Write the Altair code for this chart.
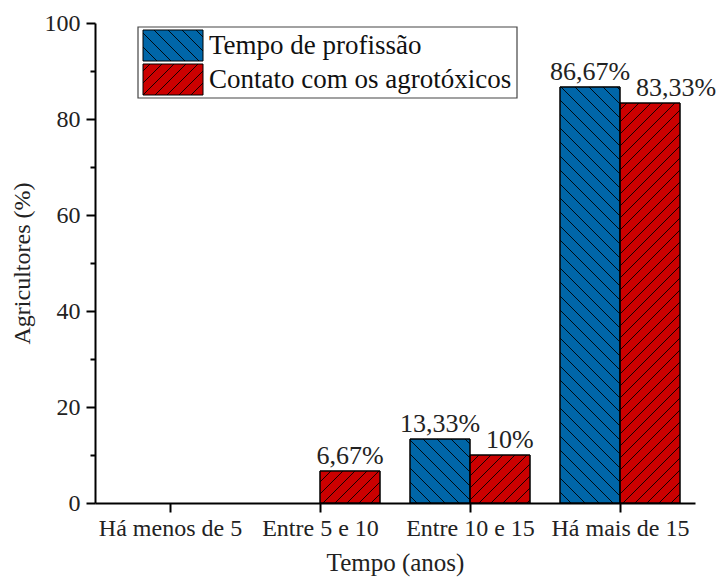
import altair as alt
import numpy as np
import pandas as pd

# ---------------- data ----------------
categories = ["Há menos de 5", "Entre 5 e 10", "Entre 10 e 15", "Há mais de 15"]
series = ["Tempo de profissão", "Contato com os agrotóxicos"]
tempo_profissao = [0.0, 0.0, 13.33, 86.67]
contato_agrotoxicos = [0.0, 6.67, 10.0, 83.33]
y_ticks = [0, 10, 20, 30, 40, 50, 60, 70, 80, 90, 100]
# labels that sit left-anchored (nudged right) instead of centred: (series index, category index)
nudged_labels = [(1, 2), (1, 3)]

# ---------------- style / layout ----------------
colors = ["#0066A8", "#CC0000"]
hatch_dir = [-1, 1]          # -1 = "\" , 1 = "/"
hatch_step = [14.0, 12.0]    # px between hatch lines
W, H = 600, 480
n_cat = len(categories)
kx = W / n_cat
ky = H / 100.0
FONT = "Liberation Serif"
values_by_series = [tempo_profissao, contato_agrotoxicos]


def fmt(v):
    s = f"{v:.2f}".replace(".", ",")
    if s.endswith(",00"):
        s = s[:-3]
    return s + "%"


def hatch(x0, x1, y0, y1, step, direction):
    """segments (in data units) for 45deg hatch clipped to a rectangle given in data units"""
    X0, X1, Y0, Y1 = x0 * kx, x1 * kx, y0 * ky, y1 * ky
    segs = []
    if direction == 1:  # Y = X + c
        cmin, cmax = Y0 - X1, Y1 - X0
        k = np.ceil(cmin / step)
        while k * step <= cmax:
            c = k * step
            xa, xb = max(X0, Y0 - c), min(X1, Y1 - c)
            if xb - xa > 0.5:
                segs.append((xa / kx, (xa + c) / ky, xb / kx, (xb + c) / ky))
            k += 1
    else:  # Y = -X + c
        cmin, cmax = X0 + Y0, X1 + Y1
        k = np.ceil(cmin / step)
        while k * step <= cmax:
            c = k * step
            xa, xb = max(X0, c - Y1), min(X1, c - Y0)
            if xb - xa > 0.5:
                segs.append((xa / kx, (c - xa) / ky, xb / kx, (c - xb) / ky))
            k += 1
    return segs


bar_rows, hatch_rows, lab_rows = [], [], []
for s, (name, vals) in enumerate(zip(series, values_by_series)):
    for i, (cat, v) in enumerate(zip(categories, vals)):
        x0 = i + 0.1 + 0.4 * s
        x1 = x0 + 0.4
        bar_rows.append(dict(cat=cat, serie=name, x0=x0, x1=x1, y0=0.0, y1=v))
        if v > 0:
            for (a, b, c, d) in hatch(x0, x1, 0.0, v, hatch_step[s], hatch_dir[s]):
                hatch_rows.append(dict(x=a, y=b, x2=c, y2=d))
            lab_rows.append(dict(xc=(x0 + x1) / 2, xl=x0, y=v, text=fmt(v),
                                 nudged=(s, i) in nudged_labels))

# legend (positions in px inside the plot, converted through scales)
leg_box = dict(x0=43 / kx, x1=422 / kx, y0=(H - 75) / ky, y1=(H - 4) / ky)
leg_rows, leg_text = [], []
for s, name in enumerate(series):
    top = 7 + s * 34
    bot = top + 31
    x0, x1 = 48 / kx, 108 / kx
    y0, y1 = (H - bot) / ky, (H - top) / ky
    leg_rows.append(dict(serie=name, x0=x0, x1=x1, y0=y0, y1=y1))
    for (a, b, c, d) in hatch(x0, x1, y0, y1, hatch_step[s], hatch_dir[s]):
        hatch_rows.append(dict(x=a, y=b, x2=c, y2=d))
    leg_text.append(dict(x=114 / kx, y=(H - (top + bot) / 2) / ky, text=name))

bars = pd.DataFrame(bar_rows)
hatches = pd.DataFrame(hatch_rows)
labs = pd.DataFrame(lab_rows)
legs = pd.DataFrame(leg_rows)
legt = pd.DataFrame(leg_text)

cat_js = "[" + ",".join("'" + c + "'" for c in categories) + "]"

xscale = alt.Scale(domain=[0, n_cat], nice=False, zero=False)
yscale = alt.Scale(domain=[0, 100], nice=False)
color_scale = alt.Scale(domain=series, range=colors)

x_axis = alt.Axis(
    values=[i + 0.5 for i in range(n_cat)],
    labelExpr=cat_js + "[floor(datum.value)]",
    title="Tempo (anos)",
    grid=False, labelOverlap=False, labelFlush=False, labelBound=False,
    tickSize=9, tickWidth=2, tickColor="black",
    domainColor="black", domainWidth=2,
    labelFont=FONT, labelFontSize=24, labelColor="#222", labelPadding=4,
    titleFont=FONT, titleFontSize=25, titleFontWeight="normal", titleColor="#222",
    titlePadding=10,
)
y_axis = alt.Axis(
    values=y_ticks,
    labelExpr="datum.value % 20 == 0 ? datum.label : ''",
    title="Agricultores (%)",
    grid=False, labelOverlap=False, labelFlush=False,
    tickSize={"condition": {"test": "datum.value % 20 == 0", "value": 9}, "value": 5},
    tickWidth=2, tickColor="black",
    domainColor="black", domainWidth=2,
    labelFont=FONT, labelFontSize=24, labelColor="#222", labelPadding=6,
    titleFont=FONT, titleFontSize=24, titleFontWeight="normal", titleColor="#222",
    titlePadding=10,
)

bar_layer = alt.Chart(bars).transform_filter("datum.y1 > 0").mark_rect(
    stroke="black", strokeWidth=1
).encode(
    x=alt.X("x0:Q", scale=xscale, axis=x_axis),
    x2="x1:Q",
    y=alt.Y("y0:Q", scale=yscale, axis=y_axis),
    y2="y1:Q",
    fill=alt.Fill("serie:N", scale=color_scale, legend=None),
)

hatch_layer = alt.Chart(hatches).mark_rule(color="black", strokeWidth=0.9).encode(
    x="x:Q", y="y:Q", x2="x2:Q", y2="y2:Q"
)

outline_layer = alt.Chart(bars).transform_filter("datum.y1 > 0").mark_rect(
    fill="transparent", stroke="black", strokeWidth=1
).encode(x="x0:Q", x2="x1:Q", y="y0:Q", y2="y1:Q")

lab_center = alt.Chart(labs).transform_filter("!datum.nudged").mark_text(
    font=FONT, fontSize=26, color="#222", align="center", baseline="alphabetic", dy=-7
).encode(x="xc:Q", y="y:Q", text="text:N")

lab_left = alt.Chart(labs).transform_filter("datum.nudged").mark_text(
    font=FONT, fontSize=26, color="#222", align="left", baseline="alphabetic", dx=16, dy=-7
).encode(x="xl:Q", y="y:Q", text="text:N")

legend_box = alt.Chart(pd.DataFrame([leg_box])).mark_rect(
    fill="white", stroke="#444", strokeWidth=1.2
).encode(x="x0:Q", x2="x1:Q", y="y0:Q", y2="y1:Q")

legend_sw = alt.Chart(legs).mark_rect(stroke="black", strokeWidth=1).encode(
    x="x0:Q", x2="x1:Q", y="y0:Q", y2="y1:Q",
    fill=alt.Fill("serie:N", scale=color_scale, legend=None),
)

legend_txt = alt.Chart(legt).mark_text(
    font=FONT, fontSize=27, color="#111", align="left", baseline="middle"
).encode(x="x:Q", y="y:Q", text="text:N")

chart = alt.layer(
    bar_layer, legend_box, legend_sw, hatch_layer, outline_layer,
    lab_center, lab_left, legend_txt,
).properties(
    width=W, height=H,
    autosize=alt.AutoSizeParams(type="none"),
    padding={"left": 87, "top": 15, "right": 21, "bottom": 75},
).configure_view(strokeWidth=0)

chart.save("out.html", embed_options={"renderer": "svg", "actions": False})
